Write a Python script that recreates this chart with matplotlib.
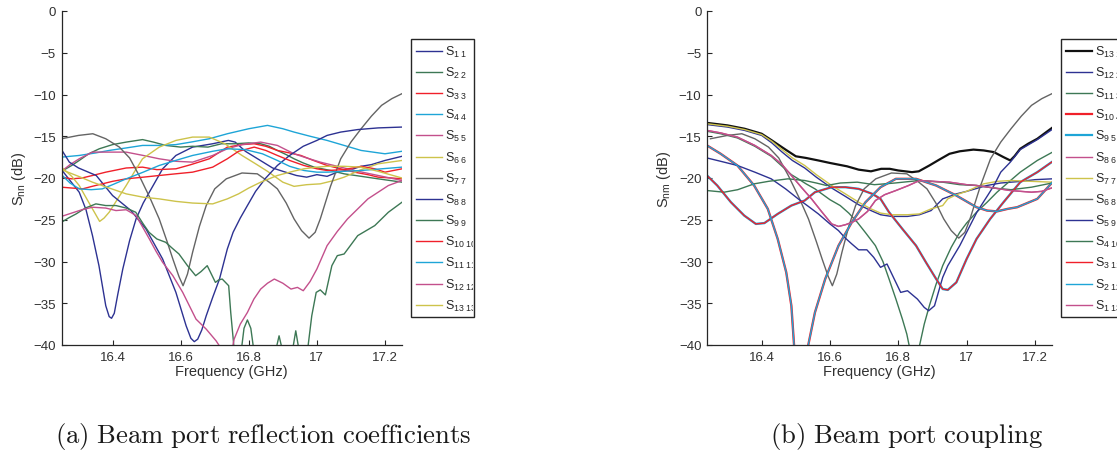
import matplotlib
matplotlib.use('Agg')
import matplotlib.pyplot as plt
from matplotlib.lines import Line2D
from matplotlib.patches import Rectangle
from matplotlib.transforms import Bbox, TransformedBbox

plt.rcParams['font.family'] = ['Liberation Sans', 'DejaVu Sans']
plt.rcParams['mathtext.fontset'] = 'custom'
plt.rcParams['mathtext.rm'] = 'Liberation Sans'
plt.rcParams['mathtext.it'] = 'Liberation Sans:italic'
plt.rcParams['mathtext.bf'] = 'Liberation Sans:bold'

# ---------------- tick data ----------------
xtick_vals = [16.4, 16.6, 16.8, 17.0, 17.2]
xtick_labels = ['16.4', '16.6', '16.8', '17', '17.2']
ytick_vals = [0, -5, -10, -15, -20, -25, -30, -35, -40]
ytick_labels = ['0', '\u22125', '\u221210', '\u221215', '\u221220', '\u221225', '\u221230', '\u221235', '\u221240']

# ---------------- (a) reflection coefficients ----------------
f_s1_1 = [16.25, 16.275, 16.302, 16.322, 16.341, 16.36, 16.38, 16.39, 16.397, 16.405, 16.415, 16.43, 16.45, 16.469, 16.49, 16.508, 16.547, 16.586, 16.635, 16.694, 16.74, 16.76, 16.79, 16.83, 16.87, 16.9, 16.94, 16.97, 17.0, 17.03, 17.06, 17.1, 17.13, 17.16, 17.2, 17.25]
s1_1 = [-19.0, -20.3, -21.7, -23.8, -26.9, -30.5, -35.3, -36.6, -36.8, -36.2, -34.0, -30.9, -27.5, -24.9, -23.0, -21.7, -18.9, -17.3, -16.3, -15.9, -15.5, -15.7, -16.8, -17.8, -18.8, -19.2, -19.7, -19.9, -19.6, -19.8, -19.3, -19.0, -18.6, -18.4, -17.9, -17.4]

f_s2_2 = [16.25, 16.28, 16.302, 16.33, 16.361, 16.40, 16.44, 16.488, 16.52, 16.556, 16.60, 16.635, 16.68, 16.72, 16.758, 16.80, 16.835, 16.86, 16.884, 16.91, 16.933, 16.96, 16.992, 17.04, 17.08, 17.13, 17.18, 17.25]
s2_2 = [-19.2, -18.5, -17.9, -17.1, -16.5, -16.0, -15.7, -15.4, -15.7, -16.1, -16.3, -16.2, -16.3, -15.9, -15.9, -15.8, -15.9, -16.2, -16.7, -17.2, -17.7, -18.2, -18.7, -19.1, -19.5, -19.8, -20.1, -20.5]

f_s3_3 = [16.25, 16.28, 16.31, 16.341, 16.38, 16.44, 16.488, 16.53, 16.586, 16.63, 16.684, 16.737, 16.78, 16.816, 16.85, 16.884, 16.92, 16.953, 16.99, 17.03, 17.07, 17.11, 17.15, 17.18, 17.22, 17.25]
s3_3 = [-19.9, -20.1, -20.0, -19.7, -19.3, -18.8, -18.7, -19.0, -18.9, -18.4, -17.7, -16.3, -16.0, -15.9, -16.2, -16.7, -17.0, -17.3, -17.9, -18.5, -18.9, -19.3, -19.6, -19.9, -20.0, -20.1]

f_s4_4 = [16.25, 16.302, 16.35, 16.39, 16.44, 16.488, 16.54, 16.586, 16.63, 16.684, 16.737, 16.8, 16.855, 16.9, 16.933, 16.98, 17.03, 17.08, 17.13, 17.2, 17.25]
s4_4 = [-17.5, -17.3, -17.0, -16.7, -16.4, -16.1, -16.1, -16.0, -15.7, -15.3, -14.7, -14.1, -13.7, -14.1, -14.5, -15.0, -15.5, -16.1, -16.7, -17.1, -16.8]

f_s5_5 = [16.25, 16.275, 16.302, 16.341, 16.39, 16.44, 16.49, 16.537, 16.586, 16.635, 16.694, 16.737, 16.78, 16.835, 16.884, 16.933, 16.97, 17.01, 17.06, 17.11, 17.18, 17.25]
s5_5 = [-19.2, -18.4, -17.7, -16.9, -16.9, -16.9, -17.3, -17.7, -18.0, -18.1, -17.3, -16.5, -16.0, -15.7, -16.1, -17.1, -17.6, -18.1, -18.6, -19.1, -19.7, -20.3]

f_s6_6 = [16.25, 16.28, 16.302, 16.32, 16.341, 16.362, 16.375, 16.39, 16.415, 16.44, 16.465, 16.488, 16.537, 16.586, 16.635, 16.684, 16.73, 16.78, 16.82, 16.855, 16.9, 16.933, 16.97, 17.01, 17.05, 17.08, 17.13, 17.18, 17.25]
s6_6 = [-18.7, -19.8, -20.9, -22.2, -23.7, -25.2, -24.8, -24.1, -22.5, -20.9, -19.2, -17.7, -16.3, -15.5, -15.1, -15.1, -15.9, -17.3, -18.3, -19.2, -20.5, -21.0, -20.8, -20.7, -20.3, -19.9, -19.0, -18.3, -17.9]

f_s7_7 = [16.25, 16.3, 16.342, 16.38, 16.42, 16.45, 16.478, 16.51, 16.537, 16.56, 16.577, 16.595, 16.607, 16.62, 16.635, 16.655, 16.675, 16.70, 16.734, 16.78, 16.825, 16.86, 16.884, 16.91, 16.933, 16.955, 16.977, 16.995, 17.01, 17.04, 17.07, 17.1, 17.13, 17.16, 17.19, 17.22, 17.25]
s7_7 = [-15.3, -14.9, -14.7, -15.3, -16.3, -17.6, -19.7, -22.4, -24.9, -27.6, -29.7, -31.8, -32.9, -31.5, -28.9, -25.8, -23.3, -21.3, -20.1, -19.4, -19.5, -20.5, -21.3, -23.0, -24.9, -26.3, -27.2, -26.5, -24.9, -21.0, -17.7, -15.7, -14.1, -12.6, -11.3, -10.5, -9.9]

f_s8_8 = [16.25, 16.273, 16.30, 16.352, 16.40, 16.454, 16.498, 16.547, 16.586, 16.616, 16.63, 16.64, 16.65, 16.662, 16.675, 16.694, 16.714, 16.737, 16.754, 16.775, 16.796, 16.82, 16.85, 16.884, 16.92, 16.96, 17.0, 17.03, 17.07, 17.12, 17.18, 17.25]
s8_8 = [-16.6, -18.1, -18.8, -19.7, -22.1, -23.9, -26.1, -29.7, -33.7, -37.7, -39.2, -39.6, -39.3, -38.2, -36.5, -34.3, -32.1, -28.5, -26.5, -24.8, -23.3, -21.6, -20.0, -18.5, -17.3, -16.2, -15.5, -14.9, -14.5, -14.2, -14.0, -13.9]

f_s9_9 = [16.25, 16.27, 16.293, 16.32, 16.351, 16.38, 16.41, 16.44, 16.468, 16.49, 16.507, 16.53, 16.556, 16.575, 16.595, 16.62, 16.644, 16.66, 16.678, 16.69, 16.702, 16.712, 16.722, 16.741, 16.747, 16.757, 16.765, 16.777, 16.786, 16.796, 16.806, 16.816, 16.825, 16.872, 16.88, 16.889, 16.898, 16.906, 16.92, 16.929, 16.938, 16.947, 16.955, 16.965, 16.973, 16.985, 16.998, 17.01, 17.025, 17.044, 17.06, 17.08, 17.1, 17.12, 17.17, 17.21, 17.25]
s9_9 = [-25.3, -24.8, -24.3, -23.6, -23.1, -23.3, -23.3, -23.6, -24.1, -25.5, -26.5, -27.3, -27.7, -28.4, -29.1, -30.5, -31.7, -31.2, -30.5, -31.5, -32.5, -32.2, -32.1, -32.9, -36.1, -40.5, -44.0, -41.0, -38.0, -37.0, -38.0, -41.0, -44.0, -44.0, -40.5, -38.9, -40.5, -44.0, -44.0, -40.5, -38.3, -40.5, -44.0, -44.0, -40.5, -36.5, -33.7, -33.4, -34.0, -30.5, -29.3, -29.1, -28.0, -26.9, -25.7, -24.1, -22.9]

f_s10_10 = [16.25, 16.28, 16.312, 16.34, 16.37, 16.40, 16.44, 16.49, 16.537, 16.585, 16.635, 16.694, 16.737, 16.77, 16.816, 16.85, 16.884, 16.92, 16.962, 17.0, 17.03, 17.08, 17.13, 17.17, 17.2, 17.25]
s10_10 = [-21.1, -21.2, -21.3, -21.0, -20.7, -20.4, -20.1, -19.9, -19.7, -19.5, -19.3, -18.7, -17.7, -16.8, -16.3, -16.7, -17.3, -17.9, -18.5, -18.9, -19.1, -19.0, -18.6, -18.9, -19.3, -18.9]

f_s11_11 = [16.25, 16.275, 16.302, 16.337, 16.37, 16.40, 16.44, 16.49, 16.537, 16.585, 16.635, 16.694, 16.737, 16.79, 16.84, 16.884, 16.92, 16.962, 17.0, 17.03, 17.08, 17.13, 17.19, 17.25]
s11_11 = [-19.6, -20.6, -21.3, -21.4, -21.3, -20.8, -20.1, -19.3, -18.5, -17.9, -17.3, -16.8, -16.5, -16.6, -17.1, -17.9, -18.6, -19.1, -19.3, -19.3, -19.2, -19.1, -18.9, -18.7]

f_s12_12 = [16.25, 16.28, 16.31, 16.341, 16.38, 16.41, 16.44, 16.469, 16.49, 16.508, 16.528, 16.547, 16.577, 16.606, 16.645, 16.675, 16.704, 16.72, 16.735, 16.75, 16.757, 16.775, 16.796, 16.815, 16.835, 16.855, 16.875, 16.9, 16.924, 16.943, 16.96, 16.98, 17.0, 17.03, 17.06, 17.09, 17.15, 17.21, 17.25]
s12_12 = [-24.6, -24.2, -23.8, -23.5, -23.6, -23.9, -23.8, -24.5, -26.0, -27.3, -28.8, -30.1, -31.7, -33.7, -36.9, -38.1, -39.5, -40.5, -41.5, -40.8, -39.3, -37.5, -36.1, -34.5, -33.3, -32.6, -32.1, -32.6, -33.3, -33.1, -33.5, -32.4, -30.9, -28.1, -26.4, -24.9, -22.5, -20.9, -20.3]

f_s13_13 = [16.25, 16.3, 16.341, 16.39, 16.44, 16.49, 16.537, 16.586, 16.635, 16.694, 16.737, 16.77, 16.80, 16.835, 16.884, 16.93, 16.962, 17.0, 17.03, 17.08, 17.13, 17.18, 17.25]
s13_13 = [-19.0, -19.8, -20.5, -21.2, -21.9, -22.3, -22.5, -22.8, -23.0, -23.1, -22.5, -21.9, -21.2, -20.5, -19.7, -19.2, -18.9, -18.7, -18.6, -18.6, -18.7, -19.2, -20.0]

# ---------------- (b) coupling ----------------
f_s13_1 = [16.24, 16.3, 16.35, 16.4, 16.43, 16.47, 16.5, 16.53, 16.566, 16.6, 16.625, 16.65, 16.684, 16.72, 16.75, 16.775, 16.8, 16.84, 16.86, 16.891, 16.92, 16.95, 16.98, 17.02, 17.05, 17.08, 17.108, 17.128, 17.14, 17.157, 17.18, 17.207, 17.23, 17.25]
s13_1 = [-13.4, -13.7, -14.1, -14.7, -15.5, -16.6, -17.4, -17.6, -17.9, -18.2, -18.4, -18.6, -19.0, -19.2, -18.9, -18.9, -19.1, -19.3, -19.2, -18.5, -17.8, -17.1, -16.8, -16.6, -16.7, -16.9, -17.5, -17.9, -17.4, -16.5, -15.9, -15.3, -14.6, -14.0]

f_s12_2 = [16.24, 16.3, 16.35, 16.4, 16.43, 16.46, 16.49, 16.526, 16.56, 16.605, 16.645, 16.684, 16.72, 16.748, 16.78, 16.827, 16.862, 16.896, 16.93, 16.97, 17.0, 17.059, 17.1, 17.16, 17.2, 17.25]
s12_2 = [-13.6, -13.9, -14.3, -14.9, -15.8, -16.9, -17.9, -18.8, -19.9, -21.2, -22.2, -23.2, -23.9, -24.4, -24.6, -24.6, -24.4, -23.9, -22.5, -21.9, -21.6, -20.9, -20.6, -20.4, -20.2, -20.1]

f_s11_3 = [16.24, 16.28, 16.329, 16.38, 16.428, 16.46, 16.487, 16.507, 16.53, 16.556, 16.6, 16.63, 16.655, 16.68, 16.705, 16.733, 16.755, 16.773, 16.793, 16.812, 16.825, 16.833, 16.848, 16.862, 16.876, 16.891, 16.91, 16.93, 16.955, 16.98, 17.0, 17.029, 17.06, 17.089, 17.12, 17.157, 17.207, 17.256]
s11_3 = [-14.4, -14.7, -15.2, -16.2, -17.4, -18.6, -19.6, -20.1, -20.7, -21.3, -22.6, -23.3, -24.2, -25.3, -26.6, -28.1, -30.0, -32.1, -34.5, -36.9, -38.7, -40.3, -46.0, -40.1, -37.5, -35.3, -32.8, -30.5, -28.3, -26.5, -25.4, -24.1, -22.9, -21.7, -20.6, -19.3, -17.9, -16.8]

# deep-null pair (S10 4 lies under S2 12)
f_s2_12 = [16.24, 16.28, 16.329, 16.378, 16.418, 16.447, 16.472, 16.487, 16.495, 16.505, 16.515, 16.527, 16.536, 16.556, 16.586, 16.625, 16.664, 16.704, 16.748, 16.793, 16.852, 16.911, 16.97, 17.029, 17.06, 17.089, 17.12, 17.148, 17.207, 17.256]
s2_12 = [-16.1, -17.1, -18.5, -20.9, -23.7, -27.3, -31.3, -35.3, -40.1, -46.0, -55.0, -46.0, -40.1, -36.1, -32.1, -28.1, -25.3, -22.9, -21.1, -20.1, -20.1, -20.9, -22.1, -23.5, -23.9, -24.0, -23.7, -23.5, -22.5, -20.3]
f_s10_4 = f_s2_12
s10_4 = s2_12

# 16.4 GHz dip pair (S9 5 lies under S3 11)
f_s3_11 = [16.24, 16.27, 16.31, 16.349, 16.383, 16.408, 16.447, 16.487, 16.526, 16.556, 16.605, 16.645, 16.684, 16.724, 16.748, 16.773, 16.812, 16.852, 16.881, 16.911, 16.93, 16.945, 16.97, 17.0, 17.029, 17.069, 17.108, 17.157, 17.207, 17.256]
s3_11 = [-19.7, -20.9, -22.9, -24.5, -25.5, -25.4, -24.3, -23.3, -22.7, -21.7, -21.1, -21.1, -21.3, -21.9, -22.5, -24.1, -26.1, -28.1, -30.1, -32.1, -33.3, -33.4, -32.5, -29.7, -27.3, -24.9, -22.9, -20.5, -19.3, -17.9]
f_s9_5 = f_s3_11
s9_5 = s3_11

f_s8_6 = [16.24, 16.28, 16.329, 16.38, 16.428, 16.46, 16.487, 16.516, 16.546, 16.575, 16.605, 16.625, 16.645, 16.665, 16.684, 16.71, 16.733, 16.76, 16.793, 16.83, 16.862, 16.9, 16.95, 17.0, 17.03, 17.08, 17.128, 17.19, 17.22, 17.256]
s8_6 = [-14.3, -14.6, -15.1, -16.1, -17.3, -18.4, -19.7, -21.1, -22.5, -24.0, -25.5, -25.8, -25.6, -25.3, -24.9, -24.0, -22.7, -22.0, -21.5, -20.9, -20.3, -20.4, -20.5, -20.8, -20.9, -21.2, -21.5, -21.7, -21.6, -21.1]
f_s1_13 = f_s8_6
s1_13 = s8_6

f_s7_7b = [16.24, 16.3, 16.35, 16.4, 16.43, 16.46, 16.49, 16.526, 16.56, 16.605, 16.645, 16.684, 16.72, 16.748, 16.78, 16.827, 16.862, 16.896, 16.93, 16.945, 16.97, 17.0, 17.05, 17.09, 17.13, 17.19, 17.25]
s7_7b = [-13.5, -13.8, -14.2, -14.8, -15.6, -16.6, -17.6, -18.5, -19.6, -20.9, -21.9, -22.9, -23.7, -24.2, -24.4, -24.4, -24.3, -23.7, -23.3, -22.5, -22.0, -21.6, -20.7, -20.4, -20.3, -20.4, -20.5]

f_s6_8 = f_s7_7
s6_8 = s7_7

f_s5_9 = [16.24, 16.28, 16.329, 16.38, 16.428, 16.47, 16.507, 16.54, 16.566, 16.6, 16.625, 16.645, 16.664, 16.684, 16.708, 16.728, 16.748, 16.767, 16.787, 16.807, 16.827, 16.856, 16.876, 16.889, 16.906, 16.93, 16.945, 16.98, 17.03, 17.063, 17.08, 17.1, 17.128, 17.157, 17.207, 17.25]
s5_9 = [-17.6, -18.0, -18.5, -19.3, -20.1, -21.3, -22.5, -23.5, -24.3, -25.5, -26.3, -27.2, -27.9, -28.6, -28.6, -29.5, -30.7, -30.3, -32.0, -33.7, -33.5, -34.5, -35.5, -35.9, -35.3, -31.9, -30.5, -28.1, -24.1, -22.0, -20.9, -19.3, -18.1, -16.6, -15.4, -14.2]

f_s4_10 = [16.24, 16.29, 16.33, 16.378, 16.42, 16.477, 16.526, 16.56, 16.59, 16.63, 16.68, 16.73, 16.79, 16.862, 16.93, 16.98, 17.03, 17.08, 17.13, 17.19, 17.25]
s4_10 = [-21.5, -21.7, -21.4, -20.7, -20.4, -20.1, -20.3, -20.6, -20.9, -20.6, -20.5, -20.8, -20.6, -20.3, -20.5, -20.8, -20.9, -21.2, -21.4, -21.1, -20.6]

# ---------------- styling ----------------
C_BLUE = '#2d3292'
C_GREEN = '#3d7855'
C_RED = '#f0202a'
C_CYAN = '#1ea5d7'
C_PINK = '#c3508c'
C_YELLOW = '#cdc34b'
C_GRAY = '#646464'
C_BLACK = '#111111'
AXC = '#262626'

labels_a = [r'$\mathrm{S}_{\mathrm{%s}}$' % s for s in
            ['1\\ 1', '2\\ 2', '3\\ 3', '4\\ 4', '5\\ 5', '6\\ 6', '7\\ 7', '8\\ 8', '9\\ 9',
             '10\\ 10', '11\\ 11', '12\\ 12', '13\\ 13']]
labels_b = [r'$\mathrm{S}_{\mathrm{%s}}$' % s for s in
            ['13\\ 1', '12\\ 2', '11\\ 3', '10\\ 4', '9\\ 5', '8\\ 6', '7\\ 7', '6\\ 8', '5\\ 9',
             '4\\ 10', '3\\ 11', '2\\ 12', '1\\ 13']]

series_a = [
    (f_s1_1, s1_1, C_BLUE, 1.0), (f_s2_2, s2_2, C_GREEN, 1.0), (f_s3_3, s3_3, C_RED, 1.0),
    (f_s4_4, s4_4, C_CYAN, 1.0), (f_s5_5, s5_5, C_PINK, 1.0), (f_s6_6, s6_6, C_YELLOW, 1.0),
    (f_s7_7, s7_7, C_GRAY, 1.0), (f_s8_8, s8_8, C_BLUE, 1.0), (f_s9_9, s9_9, C_GREEN, 1.0),
    (f_s10_10, s10_10, C_RED, 1.0), (f_s11_11, s11_11, C_CYAN, 1.0), (f_s12_12, s12_12, C_PINK, 1.0),
    (f_s13_13, s13_13, C_YELLOW, 1.0),
]
series_b = [
    (f_s13_1, s13_1, C_BLACK, 1.6), (f_s12_2, s12_2, C_BLUE, 1.0), (f_s11_3, s11_3, C_GREEN, 1.0),
    (f_s10_4, s10_4, C_RED, 1.7), (f_s9_5, s9_5, C_CYAN, 1.7), (f_s8_6, s8_6, C_PINK, 1.0),
    (f_s7_7b, s7_7b, C_YELLOW, 1.0), (f_s6_8, s6_8, C_GRAY, 1.0), (f_s5_9, s5_9, C_BLUE, 1.0),
    (f_s4_10, s4_10, C_GREEN, 1.0), (f_s3_11, s3_11, C_RED, 1.0), (f_s2_12, s2_12, C_CYAN, 1.0),
    (f_s1_13, s1_13, C_PINK, 1.0),
]

W, H = 1117, 452
fig = plt.figure(figsize=(W / 100, H / 100), dpi=100)


def fx(x):
    return x / W


def fy(y):
    return 1 - y / H


ax1 = fig.add_axes([fx(61.5), fy(346), (402 - 61.5) / W, (346 - 12) / H])
ax2 = fig.add_axes([fx(707), fy(346), (1052 - 707) / W, (346 - 12) / H])

for ax, series, xlim, ylab in ((ax1, series_a, (16.25, 17.25), r'$\mathrm{S}_{\mathrm{nn}}$ (dB)'),
                                (ax2, series_b, (16.24, 17.25), r'$\mathrm{S}_{\mathrm{nm}}$ (dB)')):
    for fr, val, col, lw in series:
        ax.plot(fr, val, color=col, lw=lw, solid_joinstyle='round')
    ax.set_xlim(*xlim)
    ax.set_ylim(-40, 0)
    ax.set_xticks(xtick_vals)
    ax.set_xticklabels(xtick_labels)
    ax.set_yticks(ytick_vals)
    ax.set_yticklabels(ytick_labels)
    for sp in ('top', 'right'):
        ax.spines[sp].set_visible(False)
    for sp in ('left', 'bottom'):
        ax.spines[sp].set_color(AXC)
        ax.spines[sp].set_linewidth(0.9)
    ax.tick_params(direction='in', length=3.5, width=0.8, color=AXC, labelsize=9.5,
                   labelcolor='#303030', pad=4)
    ax.set_xlabel('Frequency (GHz)', fontsize=10.5, color='#303030', labelpad=1)
    ax.set_ylabel(ylab, fontsize=10.5, color='#303030', labelpad=4)
    ax.patch.set_alpha(0)


def draw_legend(x0, x1, labels, series):
    top, bot = 40, 318
    rect = Rectangle((fx(x0), fy(bot)), (x1 - x0) / W, (bot - top) / H, transform=fig.transFigure,
                     facecolor='white', edgecolor=AXC, lw=1.0, zorder=5)
    fig.add_artist(rect)
    clip_right = min(x1 - 1, W)
    clip = TransformedBbox(Bbox.from_extents(fx(x0), fy(bot), fx(clip_right), fy(top)), fig.transFigure)
    for i, (lab, (fr, val, col, lw)) in enumerate(zip(labels, series)):
        y = 51.7 + i * 21.17
        fig.add_artist(Line2D([fx(x0 + 5), fx(x0 + 31)], [fy(y), fy(y)], transform=fig.transFigure,
                              color=col, lw=min(lw, 1.6), zorder=6))
        t = fig.text(fx(x0 + 34), fy(y + 3.9), lab, fontsize=9, ha='left', va='baseline',
                     color='#262626', zorder=6)
        t.set_clip_on(True)
        t.set_clip_box(clip)


draw_legend(411, 474, labels_a, series_a)
draw_legend(1061, 1140, labels_b, series_b)

fig.text(fx(55), fy(443), r'$\mathrm{(a)\ Beam\ port\ reflection\ coefficients}$', math_fontfamily='cm',
         fontsize=19.2, ha='left', va='baseline', color='#1a1a1a')
fig.text(fx(770), fy(443), r'$\mathrm{(b)\ Beam\ port\ coupling}$', math_fontfamily='cm',
         fontsize=19.2, ha='left', va='baseline', color='#1a1a1a')

fig.savefig('out.png', dpi=100)
